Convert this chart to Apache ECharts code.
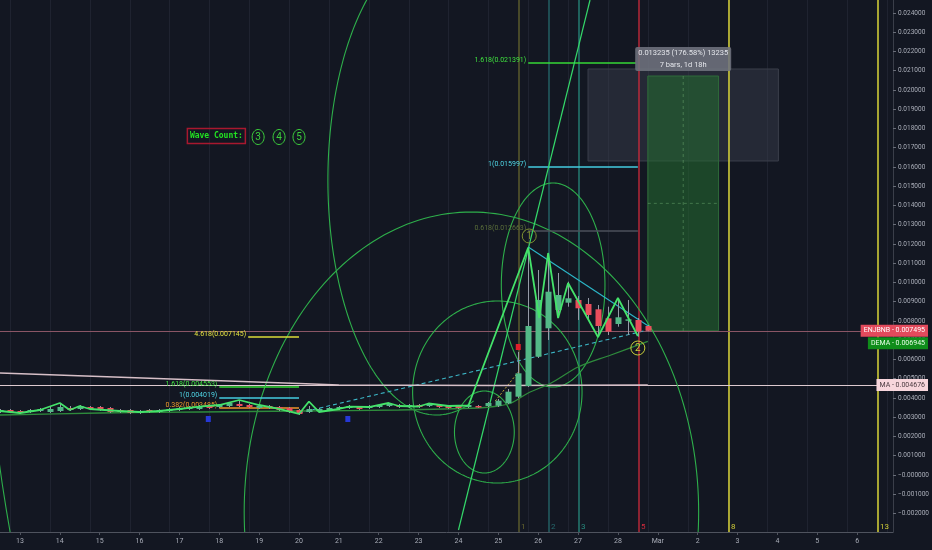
<!DOCTYPE html>
<html>
<head>
<meta charset="utf-8">
<script src="https://cdn.jsdelivr.net/npm/echarts@6/dist/echarts.min.js"></script>
<style>
html, body { margin: 0; padding: 0; background: #131722; }
#main { width: 932px; height: 550px; }
</style>
</head>
<body>
<div id="main"></div>
<script>
// ---- data ----
var dayTicks = [13,14,15,16,17,18,19,20,21,22,23,24,25,26,27,28,29,30,31,32,33,34];
var dayLabels = ['13','14','15','16','17','18','19','20','21','22','23','24','25','26','27','28','Mar','2','3','4','5','6'];
var priceTicks = [-0.002,-0.001,0,0.001,0.002,0.003,0.004,0.005,0.006,0.007,0.008,0.009,0.010,0.011,0.012,
                  0.013,0.014,0.015,0.016,0.017,0.018,0.019,0.020,0.021,0.022,0.023,0.024];
var gridDays = [12.75,13.75,14.75,15.75,16.75,17.75,18.75,19.75,20.75,21.75,22.75,23.75,
                24.75,25.75,26.75,27.75,28.75,29.75,30.75,31.75,32.75,33.75,34.75];

// 6h bars, first one at day 12.5
var barFirst = 12.5, barStep = 0.25;
var barOpen = [
  .003273,.003377,.003325,.003273,.003325,.003273,.003325,.003481,.003429,.003532,
  .003532,.003481,.003377,.003377,.003221,.003377,.003273,.003325,.003377,.003429,
  .003429,.003584,.003532,.003584,.003688,.003636,.003481,.003584,.003532,.003481,
  .003377,.003273,.003325,.003377,.003429,.003481,.003532,.003481,.003532,.003584,
  .003636,.003532,.003636,.003584,.003636,.003584,.003584,.003532,.003584,.003584,
  .003600,.003725,.004068,.004623,.006145,.007621,.008571,.008951,.009091,.008883,
  .008608,.008140,.007844,.008016,.008052,.007740];
var barClose = [
  .003377,.003273,.003221,.003377,.003429,.003429,.003532,.003377,.003584,.003429,
  .003377,.003273,.003273,.003221,.003325,.003273,.003377,.003429,.003481,.003532,
  .003584,.003481,.003636,.003740,.003584,.003532,.003584,.003481,.003377,.003273,
  .003169,.003429,.003429,.003481,.003532,.003584,.003429,.003584,.003636,.003688,
  .003532,.003636,.003532,.003688,.003532,.003481,.003481,.003636,.003532,.003740,
  .003860,.004327,.005283,.007740,.009091,.009522,.009351,.009179,.008660,.008312,
  .007740,.007444,.008192,.008088,.007444,.007495];
var barLow = [
  .003221,.003221,.003169,.003221,.003273,.003221,.003273,.003325,.003377,.003377,
  .003325,.003221,.003221,.003169,.003169,.003221,.003221,.003273,.003325,.003377,
  .003377,.003429,.003481,.003532,.003532,.003481,.003429,.003429,.003325,.003221,
  .003117,.003221,.003273,.003325,.003377,.003429,.003377,.003429,.003481,.003532,
  .003481,.003481,.003481,.003532,.003481,.003429,.003429,.003481,.003481,.003532,
  .003532,.003688,.004000,.004571,.006078,.007013,.008223,.008743,.008052,.008052,
  .007273,.007273,.007704,.007273,.007184,.007470];
var barHigh = [
  .003429,.003429,.003377,.003429,.003481,.003532,.003688,.003584,.003636,.003584,
  .003584,.003532,.003429,.003429,.003377,.003429,.003429,.003481,.003532,.003584,
  .003636,.003636,.003688,.003792,.003844,.003688,.003636,.003636,.003584,.003532,
  .003429,.003584,.003481,.003532,.003584,.003636,.003584,.003636,.003688,.003740,
  .003688,.003688,.003688,.003740,.003688,.003636,.003636,.003688,.003636,.003792,
  .003948,.004468,.006390,.011792,.010649,.011532,.010494,.010042,.009299,.009195,
  .008831,.008743,.009091,.009091,.008156,.007792];

// wave zigzag
var zigDays = [12.5,13,13.5,14,14.25,14.5,14.75,15.5,16,16.5,17,17.5,18,18.5,19,19.5,20,20.25,20.5,
               21,21.25,21.75,22.25,22.5,23,23.25,23.75,24.25,25.75,26.025,26.25,26.5,26.75,27.5,28,28.5];
var zigPrices = [.003325,.003221,.003377,.003740,.003377,.003584,.003429,.003325,.003273,.003325,.003429,
                 .003548,.003636,.003896,.003636,.003429,.003169,.003818,.003273,.003429,.003548,.003532,
                 .003740,.003584,.003558,.003714,.003584,.003610,.011818,.008156,.011532,.008156,.009974,
                 .007169,.009195,.007221];

var demaDays = [12.5,15,17.5,20,22.5,24.5,25,25.325,25.75,26.325,27,27.825,28.75];
var demaPrices = [.003117,.003221,.003273,.003325,.003377,.003481,.003584,.003740,.004260,.004779,.005610,.006234,.006945];

var maDays = [12.5,15,17.5,20,21,25,28.75];
var maPrices = [.005299,.005117,.004935,.004753,.004675,.004649,.004676];

var lastPrice = 0.007495, demaLast = 0.006945, maLast = 0.004676;
var sideNames = ['ENJBNB', 'DEMA', 'MA'];
var sidePrices = [lastPrice, demaLast, maLast];

// fib time zones
var zoneDays = [25.525, 26.275, 27.025, 28.525, 30.775, 34.525];
var zoneNames = ['1', '2', '3', '5', '8', '13'];

// fib levels
var fibPrices = [0.021391, 0.015997, 0.012663, 0.007145, 0.004553, 0.004019, 0.003485];
var fibNames = ['1.618(0.021391)', '1(0.015997)', '0.618(0.012663)', '4.618(0.007145)', '1.618(0.004553)', '1(0.004019)', '0.382(0.003485)'];
var fibFrom = [25.75, 25.75, 25.75, 18.725, 18.0, 18.0, 18.0];
var fibTo = [28.45, 28.5, 28.5, 20.0, 20.0, 20.0, 20.0];

// straight trend lines [fromDay, fromPrice, toDay, toPrice]
var trendLong = [24.0, -0.002857, 27.3, 0.024675];
var trendTop = [25.75, 0.011844, 28.8, 0.007688];
var trendBase = [20.0, 0.003221, 28.75, 0.007532];
var trendSmall = [24.925, 0.003844, 25.5, 0.005351];

// fib circles: centre, radii, arc from/to (deg)
var arcDay = [24.65, 24.975, 26.375, 23.45, 24.325, 23.45];
var arcPrice = [0.002234, 0.004312, 0.009870, 0.015325, -0.001922, 0.015325];
var arcRadDays = [0.75, 2.125, 1.3, 2.725, 5.7, 11.45];
var arcRadPrice = [0.00213, 0.004727, 0.005299, 0.012208, 0.015584, 0.051273];
var arcFrom = [0, 0, 0, 70, 0, 90];
var arcTo = [360, 360, 360, 270, 360, 180];

// boxes [fromDay, toDay, low, high]
var rangeBox = [27.25, 32.025, 0.016312, 0.021091];
var targetBox = [28.75, 30.525, 0.007495, 0.020727];
var measureAt = [29.6375, 0.02161];
var measureText = ['0.013235 (176.58%) 13235', '7 bars, 1d 18h'];

// wave labels
var waveCountAt = [17.2, 0.01761];
var waveNumDays = [18.975, 19.5, 20.0];
var waveNums = ['3', '4', '5'];
var waveMarkDays = [25.775, 28.5];
var waveMarkPrices = [0.012416, 0.006597];
var waveMarkNames = ['1', '2'];
var pivotRed = [[25.5, 0.006649]];
var pivotBlue = [[17.725, 0.002909], [21.225, 0.002909]];

// ---- chart ----
var upColor = '#53b987', downColor = '#eb4d5c';
var font = 'Roboto';
var chart = echarts.init(document.getElementById('main'));

var candleData = barOpen.map(function (o, i) {
  return [barFirst + i * barStep, o, barClose[i], barLow[i], barHigh[i]];
});
function pairs(xs, ys) { return xs.map(function (x, i) { return [x, ys[i]]; }); }

function renderCandle(params, api) {
  var t = api.value(0), o = api.value(1), c = api.value(2);
  var pO = api.coord([t, o]), pC = api.coord([t, c]);
  var pL = api.coord([t, api.value(3)]), pH = api.coord([t, api.value(4)]);
  var x = Math.round(pO[0]);
  var top = Math.min(pO[1], pC[1]), h = Math.max(Math.abs(pO[1] - pC[1]), 1.5);
  return { type: 'group', children: [
    { type: 'line', shape: { x1: x + 0.5, y1: pH[1], x2: x + 0.5, y2: pL[1] }, style: { stroke: '#959ba7', lineWidth: 1 } },
    { type: 'rect', shape: { x: x - 2.5, y: top, width: 6, height: h }, style: { fill: c >= o ? upColor : downColor } }
  ]};
}

function renderArc(params, api) {
  var c = api.coord([api.value(0), api.value(1)]);
  var s = api.size([api.value(2), api.value(3)]);
  var pts = [];
  for (var a = api.value(4); a <= api.value(5); a += 1.5) {
    var r = a * Math.PI / 180;
    pts.push([c[0] + s[0] * Math.cos(r), c[1] + s[1] * Math.sin(r)]);
  }
  return { type: 'polyline', shape: { points: pts }, style: { stroke: '#2eaf4b', lineWidth: 1.1, fill: null } };
}

function renderGridLine(params, api) {
  var cs = params.coordSys;
  var x = Math.round(api.coord([api.value(0), 0])[0]) + 0.5;
  return { type: 'line', shape: { x1: x, y1: cs.y, x2: x, y2: cs.y + cs.height }, style: { stroke: '#1f2330', lineWidth: 1 } };
}

var zoneColors = ['#66652f', '#266a6e', '#278a7e', '#d02a3c', '#cfcb38', '#cfcb38'];
function renderZone(params, api) {
  var cs = params.coordSys, i = params.dataIndex;
  var x = Math.round(api.coord([api.value(0), 0])[0]);
  return { type: 'group', children: [
    { type: 'line', shape: { x1: x, y1: cs.y, x2: x, y2: cs.y + cs.height }, style: { stroke: zoneColors[i], lineWidth: i >= 4 ? 1.6 : 1.3 } },
    { type: 'text', x: x + 2, y: cs.y + cs.height - 1, style: { text: zoneNames[i], fill: zoneColors[i], fontSize: 8, fontFamily: font, align: 'left', verticalAlign: 'bottom' } }
  ]};
}

var hlineColors = ['#8a5565', '#ddc9cf'];
function renderHLine(params, api) {
  var cs = params.coordSys;
  var y = Math.round(api.coord([20, api.value(0)])[1]) + 0.5;
  return { type: 'line', shape: { x1: cs.x, y1: y, x2: cs.x + cs.width, y2: y }, style: { stroke: hlineColors[params.dataIndex], lineWidth: 1 } };
}

function renderBox(fill, stroke) {
  return function (params, api) {
    var p0 = api.coord([api.value(0), api.value(3)]);
    var p1 = api.coord([api.value(1), api.value(2)]);
    return { type: 'rect', shape: { x: p0[0], y: p0[1], width: p1[0] - p0[0], height: p1[1] - p0[1] }, style: { fill: fill, stroke: stroke, lineWidth: 1 } };
  };
}

function renderTargetInner(params, api) {
  var d0 = api.value(0), d1 = api.value(1), lo = api.value(2), hi = api.value(3);
  var p0 = api.coord([d0, hi]), p1 = api.coord([d1, lo]);
  var mx = (p0[0] + p1[0]) / 2, my = (p0[1] + p1[1]) / 2;
  var st = { stroke: 'rgba(140,210,140,0.35)', lineWidth: 1, lineDash: [3, 3] };
  return { type: 'group', children: [
    { type: 'line', shape: { x1: mx, y1: p0[1], x2: mx, y2: p1[1] }, style: st },
    { type: 'line', shape: { x1: p0[0], y1: my, x2: p1[0], y2: my }, style: st }
  ]};
}

var fibColors = ['#3ee03e', '#4fd6e6', '#5b6f3a', '#e2e23e', '#3ee03e', '#4fd6e6', '#f09a2a'];
var fibLineColors = ['#36d836', '#45cde0', '#4d515b', '#dcdc38', '#36d836', '#45cde0', '#ec962a'];
function renderFib(params, api) {
  var i = params.dataIndex;
  var p0 = api.coord([api.value(1), api.value(0)]), p1 = api.coord([api.value(2), api.value(0)]);
  var y = Math.round(p0[1]);
  return { type: 'group', children: [
    { type: 'line', shape: { x1: p0[0], y1: y, x2: p1[0], y2: y }, style: { stroke: fibLineColors[i], lineWidth: 1.3 } },
    { type: 'text', x: p0[0] - 2, y: y + 1, style: { text: fibNames[i], fill: fibColors[i], fontSize: 7, fontFamily: font, align: 'right', verticalAlign: 'bottom' } }
  ]};
}

var segStyles = [
  { stroke: '#34d86a', lineWidth: 1.2 },
  { stroke: '#2bb7c9', lineWidth: 1.1 },
  { stroke: '#3cb6c6', lineWidth: 1.1, lineDash: [4, 3] },
  { stroke: '#c8a83a', lineWidth: 1, lineDash: [2, 2] }
];
function renderSeg(params, api) {
  var a = api.coord([api.value(0), api.value(1)]), b = api.coord([api.value(2), api.value(3)]);
  return { type: 'line', shape: { x1: a[0], y1: a[1], x2: b[0], y2: b[1] }, style: segStyles[params.dataIndex] };
}

function renderMeasure(params, api) {
  var p = api.coord([api.value(0), api.value(1)]);
  return { type: 'group', children: [
    { type: 'rect', shape: { x: p[0] - 48, y: p[1] - 12, width: 96, height: 24, r: 2 }, style: { fill: 'rgba(112,115,126,0.88)' } },
    { type: 'text', x: p[0], y: p[1] - 6, style: { text: measureText[0], fill: '#e4e6eb', fontSize: 7.5, fontFamily: font, align: 'center', verticalAlign: 'middle' } },
    { type: 'text', x: p[0], y: p[1] + 6, style: { text: measureText[1], fill: '#e4e6eb', fontSize: 7.5, fontFamily: font, align: 'center', verticalAlign: 'middle' } }
  ]};
}

function renderWaveCount(params, api) {
  var p = api.coord([api.value(0), api.value(1)]);
  var kids = [
    { type: 'rect', shape: { x: p[0], y: p[1] - 7.5, width: 58, height: 15 }, style: { fill: 'rgba(0,0,0,0)', stroke: '#a8182f', lineWidth: 1.5 } },
    { type: 'text', x: p[0] + 29, y: p[1], style: { text: 'Wave Count:', fill: '#22e322', fontSize: 8, fontWeight: 'bold', fontFamily: 'DejaVu Sans Mono', align: 'center', verticalAlign: 'middle' } }
  ];
  waveNumDays.forEach(function (d, i) {
    var q = api.coord([d, api.value(1)]);
    kids.push({ type: 'ellipse', shape: { cx: q[0], cy: q[1] + 1, rx: 6, ry: 7.5 }, style: { fill: 'rgba(0,0,0,0)', stroke: '#3ccf3c', lineWidth: 1 } });
    kids.push({ type: 'text', x: q[0], y: q[1] + 1.5, style: { text: waveNums[i], fill: '#3ccf3c', fontSize: 10, fontFamily: font, align: 'center', verticalAlign: 'middle' } });
  });
  return { type: 'group', children: kids };
}

var waveMarkColors = ['#7d8f30', '#c8cf3a'];
function renderWaveMark(params, api) {
  var i = params.dataIndex;
  var q = api.coord([api.value(0), api.value(1)]);
  return { type: 'group', children: [
    { type: 'circle', shape: { cx: q[0], cy: q[1], r: 7 }, style: { fill: 'rgba(0,0,0,0)', stroke: waveMarkColors[i], lineWidth: 1 } },
    { type: 'text', x: q[0], y: q[1] + 0.5, style: { text: waveMarkNames[i], fill: waveMarkColors[i], fontSize: 10, fontFamily: font, align: 'center', verticalAlign: 'middle' } }
  ]};
}

function renderPivot(color) {
  return function (params, api) {
    var q = api.coord([api.value(0), api.value(1)]);
    return { type: 'rect', shape: { x: q[0] - 2.5, y: q[1] - 3, width: 5, height: 6 }, style: { fill: color } };
  };
}

var sideBg = ['#e24a5c', '#0f8d1a', '#f7d6dc'];
var sideFg = ['#ffffff', '#e8ffe8', '#4a3a40'];
function renderSide(params, api) {
  var cs = params.coordSys, i = params.dataIndex;
  var y = api.coord([20, api.value(0)])[1] + (i === 1 ? 2 : 0);
  var v = sidePrices[i].toFixed(6);
  return { type: 'text', x: cs.x + cs.width + 35, y: y, z2: 10, style: {
    text: sideNames[i] + ' - ' + v, fill: sideFg[i], backgroundColor: sideBg[i], padding: [3, 3, 2, 3],
    fontSize: 7, fontFamily: font, align: 'right', verticalAlign: 'middle' } };
}

var option = {
  backgroundColor: '#131722',
  animation: false,
  grid: { left: 0, right: 36, top: 0, bottom: 18 },
  xAxis: {
    type: 'value', min: 12.5, max: 34.9,
    axisLine: { onZero: false, lineStyle: { color: '#4f535e' } },
    axisTick: { show: true, length: 3, customValues: dayTicks, lineStyle: { color: '#4f535e' } },
    splitLine: { show: false },
    axisLabel: {
      customValues: dayTicks,
      color: '#a9adb8', fontSize: 7, fontFamily: font, margin: 6,
      formatter: function (v) { var s = dayLabels[dayTicks.indexOf(Math.round(v))]; return s === undefined ? '' : s; }
    }
  },
  yAxis: {
    type: 'value', position: 'right', min: -0.002961, max: 0.024675,
    axisLine: { show: true, onZero: false, lineStyle: { color: '#3a3e49' } },
    axisTick: { show: true, length: 3, customValues: priceTicks, lineStyle: { color: '#6a6e79' } },
    splitLine: { show: false },
    axisLabel: {
      customValues: priceTicks,
      color: '#a9adb8', fontSize: 6.5, fontFamily: font, margin: 5,
      formatter: function (v) {
        if (v < 0.0005) return '\u2212' + Math.abs(v).toFixed(6);
        return v.toFixed(6);
      }
    }
  },
  series: [
    { type: 'custom', renderItem: renderGridLine, data: gridDays.map(function (d) { return [d]; }), clip: true, z: 1, silent: true },
    { type: 'custom', renderItem: renderBox('rgba(60,65,80,0.45)', '#3b3f4b'), data: [rangeBox], clip: true, z: 2, silent: true },
    { type: 'custom', renderItem: renderBox('rgba(36,110,48,0.55)', '#2f6b3a'), data: [targetBox], clip: true, z: 3, silent: true },
    { type: 'custom', renderItem: renderTargetInner, data: [targetBox], clip: true, z: 3, silent: true },
    { type: 'custom', renderItem: renderZone, data: zoneDays.map(function (d) { return [d]; }), clip: true, z: 4, silent: true },
    { type: 'custom', renderItem: renderHLine, data: [[lastPrice], [maLast]], clip: true, z: 4, silent: true },
    { type: 'custom', renderItem: renderArc, clip: true, z: 5, silent: true,
      data: arcDay.map(function (d, i) { return [d, arcPrice[i], arcRadDays[i], arcRadPrice[i], arcFrom[i], arcTo[i]]; }) },
    { type: 'custom', renderItem: renderFib, clip: true, z: 5, silent: true,
      data: fibPrices.map(function (p, i) { return [p, fibFrom[i], fibTo[i]]; }) },
    { type: 'custom', renderItem: renderSeg, clip: true, z: 6, silent: true,
      data: [trendLong, trendTop, trendBase, trendSmall] },
    { type: 'line', data: pairs(maDays, maPrices), showSymbol: false, lineStyle: { color: '#d6bfc7', width: 1.6 }, z: 6, silent: true },
    { type: 'line', data: pairs(demaDays, demaPrices), showSymbol: false, smooth: 0.3, lineStyle: { color: '#2e8a3c', width: 1.3 }, z: 6, silent: true },
    { type: 'custom', renderItem: renderCandle, data: candleData, clip: true, z: 7, silent: true },
    { type: 'line', data: pairs(zigDays, zigPrices), showSymbol: false, lineStyle: { color: '#44e36a', width: 1.8 }, z: 8, silent: true },
    { type: 'custom', renderItem: renderPivot('#e0202a'), data: pivotRed, clip: true, z: 8, silent: true },
    { type: 'custom', renderItem: renderPivot('#2638d6'), data: pivotBlue, clip: true, z: 8, silent: true },
    { type: 'custom', renderItem: renderWaveMark, data: pairs(waveMarkDays, waveMarkPrices), clip: true, z: 9, silent: true },
    { type: 'custom', renderItem: renderWaveCount, data: [waveCountAt], clip: true, z: 9, silent: true },
    { type: 'custom', renderItem: renderMeasure, data: [measureAt], clip: true, z: 10, silent: true },
    { type: 'custom', renderItem: renderSide, data: sidePrices.map(function (p) { return [p]; }), z: 12, silent: true }
  ]
};
chart.setOption(option);
</script>
</body>
</html>
